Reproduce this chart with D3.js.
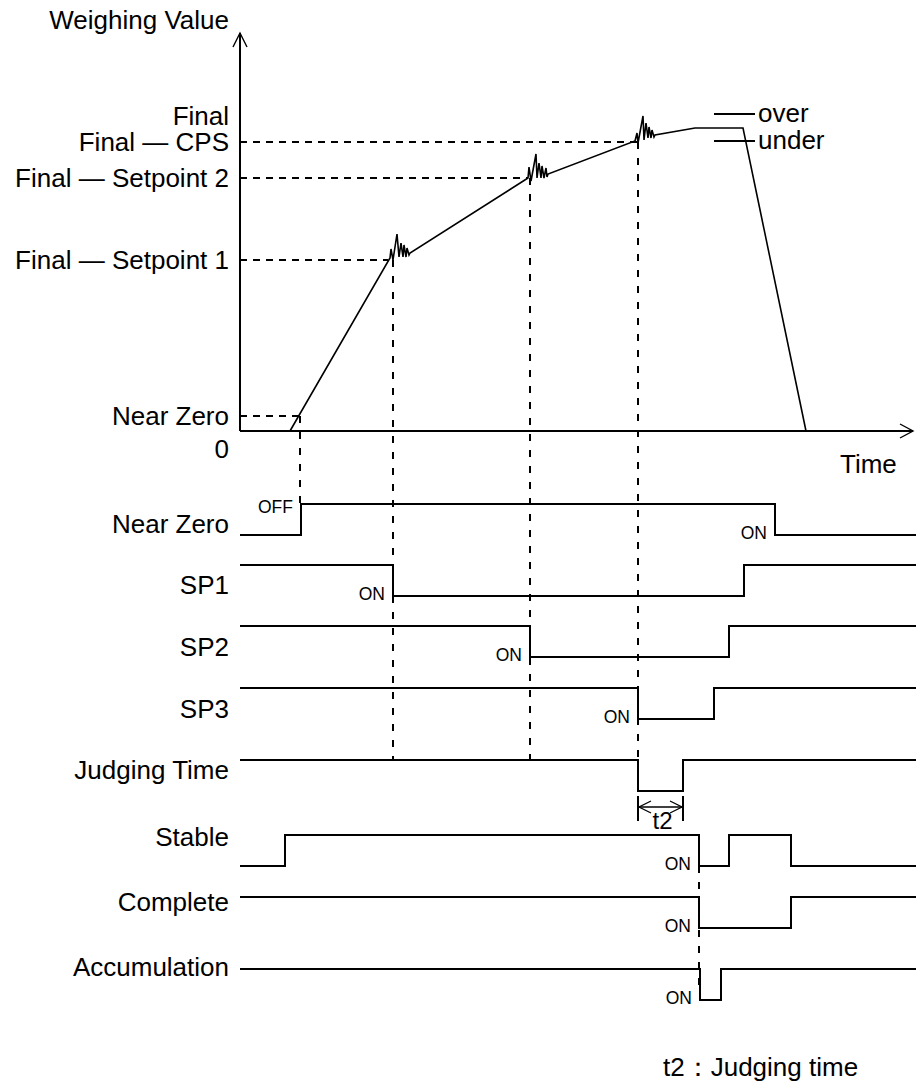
<!DOCTYPE html>
<html>
<head>
<meta charset="utf-8">
<script src="https://cdn.jsdelivr.net/npm/d3@7"></script>
<style>
    body { margin: 0; background: #fff; }
    text { font-family: "Liberation Sans", Arial, sans-serif; fill: #000; }
</style>
</head>
<body>
<script>
// Niveaux de poids (unités de l'axe "Weighing Value")
const levelNames  = ["Final", "Final — CPS", "Final — Setpoint 2", "Final — Setpoint 1", "Near Zero", "0"];
const levelValues = [157, 144.5, 126.5, 85.5, 7.5, 0];
// fin des pointillés horizontaux (temps où la courbe atteint le niveau)
const levelGuideEnd = [null, 198.5, 144, 74, 30, null];

// Courbe de pesage : temps / poids
const curveT = [25, 75, 75.5, 76.5, 78.5, 79.5, 80.5, 81.5, 82, 83, 83.5, 84.5, 85,
                144, 144.5, 145.5, 148, 148.5, 149.5, 150.5, 151, 152, 153, 153.5, 154,
                197.5, 198.5, 199, 201.5, 202, 203, 204, 204.5, 205.5, 206, 207, 207.5,
                227.5, 251.5, 283];
const curveW = [0, 86.5, 91, 85.5, 98.5, 87, 94, 87, 93, 87, 91.5, 88, 89,
                126.5, 132, 125, 138.5, 126.5, 134, 126.5, 132.5, 126.5, 131.5, 127, 128.5,
                145, 149, 144, 157.5, 145.5, 154, 146.5, 152, 146.5, 150.5, 147, 148,
                151.5, 151.5, 0];

// Seuils over / under
const judgeNames  = ["over", "under"];
const judgeValues = [158.5, 145];
const judgeSpan   = [237, 257.5];

// Signaux logiques
const signalNames = ["Near Zero", "SP1", "SP2", "SP3", "Judging Time", "Stable", "Complete", "Accumulation"];
const signalStart = [0, 1, 1, 1, 1, 0, 1, 1];   // 1 = niveau haut
const signalEdges = [
    [30.5, 267.5],
    [76.5, 252],
    [145, 244.5],
    [199, 237],
    [199, 221.5],
    [22.5, 229.5, 244.5, 275.5],
    [229.5, 275.5],
    [230, 240.5]
];
const timeEnd = 337;

// Annotations ON / OFF : signal, temps du front, texte
const markSignal = ["Near Zero", "Near Zero", "SP1", "SP2", "SP3", "Stable", "Complete", "Accumulation"];
const markTime   = [30.5, 267.5, 76.5, 145, 199, 229.5, 229.5, 230];
const markText   = ["OFF", "ON", "ON", "ON", "ON", "ON", "ON", "ON"];

// Pointillés verticaux : temps, du niveau de poids jusqu'au signal
const vGuideTime   = [30, 76.5, 145, 199];
const vGuideWeight = [7.5, 85.5, 126.5, 144.5];
const vGuideTo     = ["Near Zero", "Judging Time", "Judging Time", "Judging Time"];

// Temps de jugement t2
const t2Span = [199, 221.5];

const width = 917, height = 1086;

const svg = d3.select("body").append("svg")
    .attr("width", width)
    .attr("height", height);

const x = d3.scaleLinear().domain([0, timeEnd]).range([240, 914]);
const y = d3.scaleLinear().domain([0, 157]).range([431, 117]);

// position des pistes (niveau haut) et des libellés
const laneY = d3.scaleOrdinal().domain(signalNames)
    .range([504, 565, 626, 688, 760, 835, 897, 969]);
const laneLabelY = d3.scaleOrdinal().domain(signalNames)
    .range([533, 594, 656, 718, 779, 846, 911, 976]);
const laneH = 31;
const lvl = (name, v) => laneY(name) + (v ? 0 : laneH);

const g = svg.append("g");

// Axes avec flèches ouvertes
g.append("line")
    .attr("x1", x(0)).attr("y1", y(0))
    .attr("x2", x(0)).attr("y2", 33)
    .attr("stroke", "#000").attr("stroke-width", 2);
g.append("path")
    .attr("d", `M${x(0) - 7},47 L${x(0)},33 L${x(0) + 7},47`)
    .attr("fill", "none").attr("stroke", "#000").attr("stroke-width", 1.4);
g.append("line")
    .attr("x1", x(0)).attr("y1", y(0))
    .attr("x2", 913).attr("y2", y(0))
    .attr("stroke", "#000").attr("stroke-width", 2);
g.append("path")
    .attr("d", `M900,${y(0) - 7} L913,${y(0)} L900,${y(0) + 7}`)
    .attr("fill", "none").attr("stroke", "#000").attr("stroke-width", 1.4);

g.append("text")
    .attr("x", 229).attr("y", 29)
    .attr("text-anchor", "end")
    .style("font-size", "26px")
    .text("Weighing Value");
g.append("text")
    .attr("x", 840).attr("y", 473)
    .style("font-size", "26px")
    .text("Time");

// Libellés des niveaux
levelNames.forEach((name, i) => {
    const isZero = levelValues[i] === 0;
    const isFinal = i === 0;
    g.append("text")
        .attr("x", 229)
        .attr("y", isZero ? y(0) + 27 : y(levelValues[i]) - (isFinal ? 1 : 0))
        .attr("dy", isZero ? 0 : "0.33em")
        .attr("text-anchor", "end")
        .style("font-size", "26px")
        .text(name);
    if (levelGuideEnd[i] !== null) {
        g.append("line")
            .attr("x1", x(0)).attr("x2", x(levelGuideEnd[i]))
            .attr("y1", y(levelValues[i])).attr("y2", y(levelValues[i]))
            .attr("stroke", "#000").attr("stroke-width", 2)
            .attr("stroke-dasharray", "7,6");
    }
});

// Pointillés verticaux
vGuideTime.forEach((t, i) => {
    g.append("line")
        .attr("x1", x(t)).attr("x2", x(t))
        .attr("y1", y(vGuideWeight[i]))
        .attr("y2", laneY(vGuideTo[i]))
        .attr("stroke", "#000").attr("stroke-width", 2)
        .attr("stroke-dasharray", "7,9");
});
// pointillé final (Stable -> Accumulation)
g.append("line")
    .attr("x1", x(229.5)).attr("x2", x(229.5))
    .attr("y1", lvl("Stable", 0))
    .attr("y2", laneY("Accumulation") + 18)
    .attr("stroke", "#000").attr("stroke-width", 2)
    .attr("stroke-dasharray", "7,9");

// Courbe de pesage
const curve = curveT.map((t, i) => [t, curveW[i]]);
g.append("path")
    .datum(curve)
    .attr("d", d3.line().x(d => x(d[0])).y(d => y(d[1])))
    .attr("fill", "none")
    .attr("stroke", "#000")
    .attr("stroke-width", 1.6)
    .attr("stroke-linejoin", "miter");

// over / under
judgeNames.forEach((name, i) => {
    g.append("line")
        .attr("x1", x(judgeSpan[0])).attr("x2", x(judgeSpan[1]))
        .attr("y1", y(judgeValues[i])).attr("y2", y(judgeValues[i]))
        .attr("stroke", "#000").attr("stroke-width", 2);
    g.append("text")
        .attr("x", x(judgeSpan[1]) + 3)
        .attr("y", y(judgeValues[i]))
        .attr("dy", "0.3em")
        .style("font-size", "26px")
        .text(name);
});

// Signaux
const step = d3.line().curve(d3.curveStepAfter);
signalNames.forEach((name, i) => {
    let v = signalStart[i];
    const pts = [[x(0), lvl(name, v)]];
    signalEdges[i].forEach(t => {
        v = 1 - v;
        pts.push([x(t), lvl(name, v)]);
    });
    pts.push([x(timeEnd) + 2, lvl(name, v)]);
    g.append("path")
        .attr("d", step(pts))
        .attr("fill", "none")
        .attr("stroke", "#000")
        .attr("stroke-width", 2);

    g.append("text")
        .attr("x", 229)
        .attr("y", laneLabelY(name))
        .attr("text-anchor", "end")
        .style("font-size", "26px")
        .text(name);
});

// ON / OFF
markText.forEach((txt, i) => {
    const name = markSignal[i];
    g.append("text")
        .attr("x", x(markTime[i]) - 8)
        .attr("y", txt === "OFF" ? laneY(name) + 9 : lvl(name, 0) + 4)
        .attr("text-anchor", "end")
        .style("font-size", "17.5px")
        .text(txt);
});

// Cote t2
const jLow = lvl("Judging Time", 0);
t2Span.forEach(t => {
    g.append("line")
        .attr("x1", x(t)).attr("x2", x(t))
        .attr("y1", jLow + 5).attr("y2", jLow + 30)
        .attr("stroke", "#000").attr("stroke-width", 2);
});
const ay = jLow + 16, ax0 = x(t2Span[0]), ax1 = x(t2Span[1]);
g.append("line")
    .attr("x1", ax0).attr("x2", ax1)
    .attr("y1", ay).attr("y2", ay)
    .attr("stroke", "#000").attr("stroke-width", 1.3);
g.append("path")
    .attr("d", `M${ax0 + 13},${ay - 6} L${ax0 + 1},${ay} L${ax0 + 13},${ay + 6}
                M${ax1 - 13},${ay - 6} L${ax1 - 1},${ay} L${ax1 - 13},${ay + 6}`)
    .attr("fill", "none").attr("stroke", "#000").attr("stroke-width", 1.3);
g.append("text")
    .attr("x", (ax0 + ax1) / 2 + 2)
    .attr("y", jLow + 38)
    .attr("text-anchor", "middle")
    .style("font-size", "24px")
    .text("t2");

// Note
g.append("text")
    .attr("x", 663).attr("y", 1076)
    .style("font-size", "26px")
    .text("t2：Judging time");
</script>
</body>
</html>
